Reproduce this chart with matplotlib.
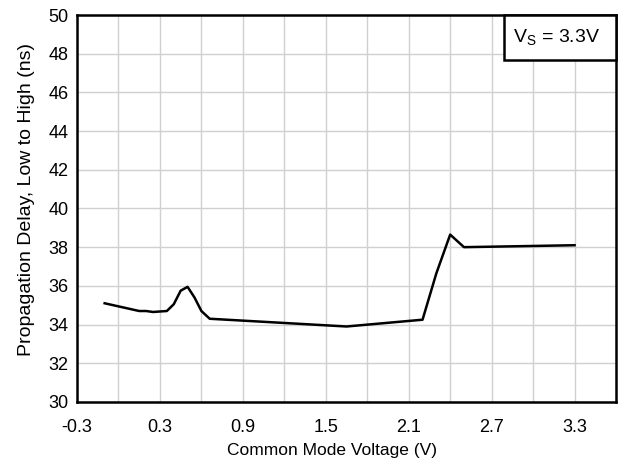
import matplotlib.pyplot as plt
import numpy as np
from matplotlib.patches import Rectangle

plt.rcParams['font.family'] = ['Liberation Sans', 'DejaVu Sans']

# data
vcm = [-0.1, 0.15, 0.2, 0.25, 0.35, 0.4, 0.45, 0.5, 0.55, 0.6, 0.66, 1.65, 2.2, 2.3, 2.4, 2.5, 3.3]
delay = [35.1, 34.7, 34.7, 34.65, 34.7, 35.05, 35.75, 35.95, 35.4, 34.7, 34.3, 33.9, 34.25, 36.65, 38.65, 38.0, 38.1]

xticks = [-0.3, 0.3, 0.9, 1.5, 2.1, 2.7, 3.3]
xgrid = np.arange(-0.3, 3.61, 0.3)
yticks = np.arange(30, 51, 2)

fig = plt.figure(figsize=(6.21, 4.62), dpi=100)
ax = fig.add_axes([0.124, 0.13, 0.868, 0.8375])

ax.plot(vcm, delay, color='black', linewidth=1.8, zorder=3)

ax.set_xlim(-0.3, 3.6)
ax.set_ylim(30, 50)
ax.set_xticks(xticks)
ax.set_xticklabels(['%.1f' % v for v in xticks])
ax.set_xticks(xgrid, minor=True)
ax.set_yticks(yticks)
ax.grid(True, which='both', color='#d0d0d0', linewidth=1.0)
ax.tick_params(which='both', length=0, labelsize=13)
ax.tick_params(axis='x', pad=12)
ax.tick_params(axis='y', pad=6)

for s in ax.spines.values():
    s.set_linewidth(1.8)

ax.set_xlabel('Common Mode Voltage (V)', fontsize=12.5, labelpad=5)
ax.set_ylabel('Propagation Delay, Low to High (ns)', fontsize=14, labelpad=10)
ax.xaxis.label.set_x(0.473)
ax.yaxis.label.set_y(0.523)

# V_S box in the top-right corner
ax.add_patch(Rectangle((0.792, 0.884), 0.208, 0.116, transform=ax.transAxes,
                       facecolor='white', edgecolor='black', linewidth=1.8,
                       zorder=5, clip_on=False))
ax.text(0.89, 0.942, r'V$_\mathregular{S}$ = 3.3V', transform=ax.transAxes,
        fontsize=14, ha='center', va='center', zorder=6)

fig.savefig('out.png', dpi=100)
